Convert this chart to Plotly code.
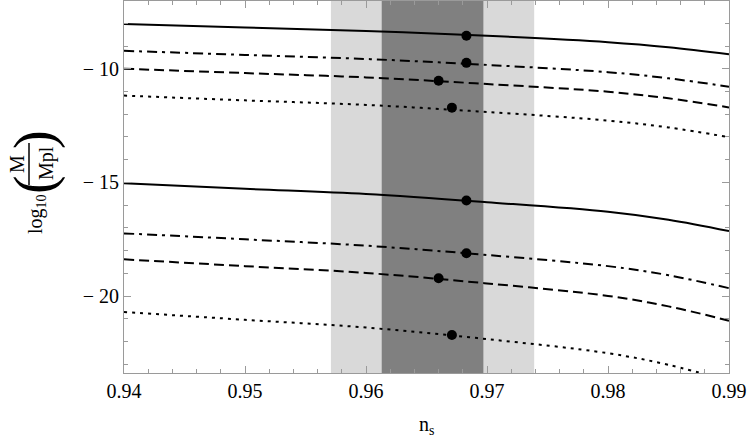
import plotly.graph_objects as go

# ---------------- data ----------------
ns = [0.94, 0.95, 0.96, 0.97, 0.98, 0.985, 0.99]

upper_solid   = [-8.03, -8.18, -8.34, -8.55, -8.83, -9.05, -9.36]
upper_dashdot = [-9.21, -9.39, -9.57, -9.83, -10.15, -10.42, -10.79]
upper_dashed  = [-10.00, -10.19, -10.38, -10.67, -11.01, -11.30, -11.70]
upper_dotted  = [-11.18, -11.39, -11.59, -11.90, -12.28, -12.58, -13.01]

lower_solid   = [-15.04, -15.28, -15.51, -15.87, -16.29, -16.64, -17.14]
lower_dashdot = [-17.24, -17.50, -17.78, -18.19, -18.68, -19.08, -19.65]
lower_dashed  = [-18.38, -18.68, -18.98, -19.44, -19.99, -20.45, -21.08]
lower_dotted  = [-20.70, -21.04, -21.38, -21.89, -22.51, -23.02, -23.73]

dot_ns   = [0.9683, 0.9683, 0.9660, 0.9671, 0.9683, 0.9683, 0.9660, 0.9671]
dot_logm = [-8.55, -9.74, -10.53, -11.71, -15.79, -18.11, -19.21, -21.71]

band_1sigma = [0.9613, 0.9697]
band_2sigma = [0.9571, 0.9739]

x_ticks = [0.94, 0.95, 0.96, 0.97, 0.98, 0.99]
x_ticklabels = ["0.94", "0.95", "0.96", "0.97", "0.98", "0.99"]
y_ticks = [-20, -15, -10]
y_ticklabels = ["\u2212 20", "\u2212 15", "\u2212 10"]

# ---------------- figure ----------------
FONT = "Liberation Serif, Times New Roman, serif"
FRAME = "#9a9a9a"

fig = go.Figure()

styles = {
    "solid": dict(dash="solid"),
    "dashdot": dict(dash="10px,5px,3px,5px"),
    "dashed": dict(dash="10px,5px"),
    "dotted": dict(dash="3px,5px"),
}

series = [
    (upper_solid, "solid"), (upper_dashdot, "dashdot"),
    (upper_dashed, "dashed"), (upper_dotted, "dotted"),
    (lower_solid, "solid"), (lower_dashdot, "dashdot"),
    (lower_dashed, "dashed"), (lower_dotted, "dotted"),
]
for ys, st in series:
    fig.add_trace(go.Scatter(
        x=ns, y=ys, mode="lines",
        line=dict(color="black", width=2, shape="spline", **styles[st]),
        showlegend=False, hoverinfo="skip"))

fig.add_trace(go.Scatter(
    x=dot_ns, y=dot_logm, mode="markers",
    marker=dict(color="black", size=10),
    showlegend=False, hoverinfo="skip"))

fig.add_shape(type="rect", xref="x", yref="paper",
              x0=band_2sigma[0], x1=band_2sigma[1], y0=0, y1=1,
              fillcolor="#d9d9d9", line_width=0, layer="below")
fig.add_shape(type="rect", xref="x", yref="paper",
              x0=band_1sigma[0], x1=band_1sigma[1], y0=0, y1=1,
              fillcolor="#808080", line_width=0, layer="below")

# ---- layout geometry (pixels) ----
W, H = 750, 448
L, R, T, B = 124, 21, 1, 75
pw = W - L - R
ph = H - T - B

def px2paper_x(px):
    return (px - L) / pw

def py2paper_y(py):
    return 1 - (py - T) / ph

axis_common = dict(
    showgrid=False, zeroline=False, showline=True, linecolor=FRAME,
    linewidth=1, mirror="allticks", ticks="inside", ticklen=7,
    tickcolor=FRAME, tickwidth=1,
    tickfont=dict(family=FONT, size=20, color="black"),
)

fig.update_layout(
    width=W, height=H,
    margin=dict(l=L, r=R, t=T, b=B),
    plot_bgcolor="white", paper_bgcolor="white",
    font=dict(family=FONT, color="black"),
    xaxis=dict(range=[0.94, 0.99], tickvals=x_ticks, ticktext=x_ticklabels,
               minor=dict(dtick=0.002, tick0=0.94, ticks="inside", ticklen=4,
                          tickcolor=FRAME),
               **axis_common),
    yaxis=dict(range=[-23.38, -7.02], tickvals=y_ticks, ticktext=y_ticklabels,
               minor=dict(dtick=1, tick0=-20, ticks="inside", ticklen=4,
                          tickcolor=FRAME),
               **axis_common),
)

# x axis title
fig.add_annotation(xref="paper", yref="paper", x=0.5, y=py2paper_y(425),
                   xanchor="center", yanchor="middle",
                   text="n<sub>s</sub>", showarrow=False,
                   font=dict(family=FONT, size=20, color="black"))

# y axis title built from pieces: log10 ( M / Mpl )
def rot_text(px, py, text, size):
    fig.add_annotation(x=px2paper_x(px), y=py2paper_y(py), text=text,
                       xref="paper", yref="paper", showarrow=False,
                       xanchor="center", yanchor="middle",
                       textangle=-90,
                       font=dict(family=FONT, size=size, color="black"))

rot_text(36, 214, "log<sub>10</sub>", 20)
rot_text(34, 185, "(", 56)
rot_text(34, 140, ")", 56)
rot_text(17, 164, "M", 20)
rot_text(46, 163, "Mpl", 20)
fig.add_shape(type="line", xref="paper", yref="paper",
              x0=px2paper_x(29), x1=px2paper_x(29),
              y0=py2paper_y(143), y1=py2paper_y(185),
              line=dict(color="black", width=1.5))

fig.write_html("out.html")
